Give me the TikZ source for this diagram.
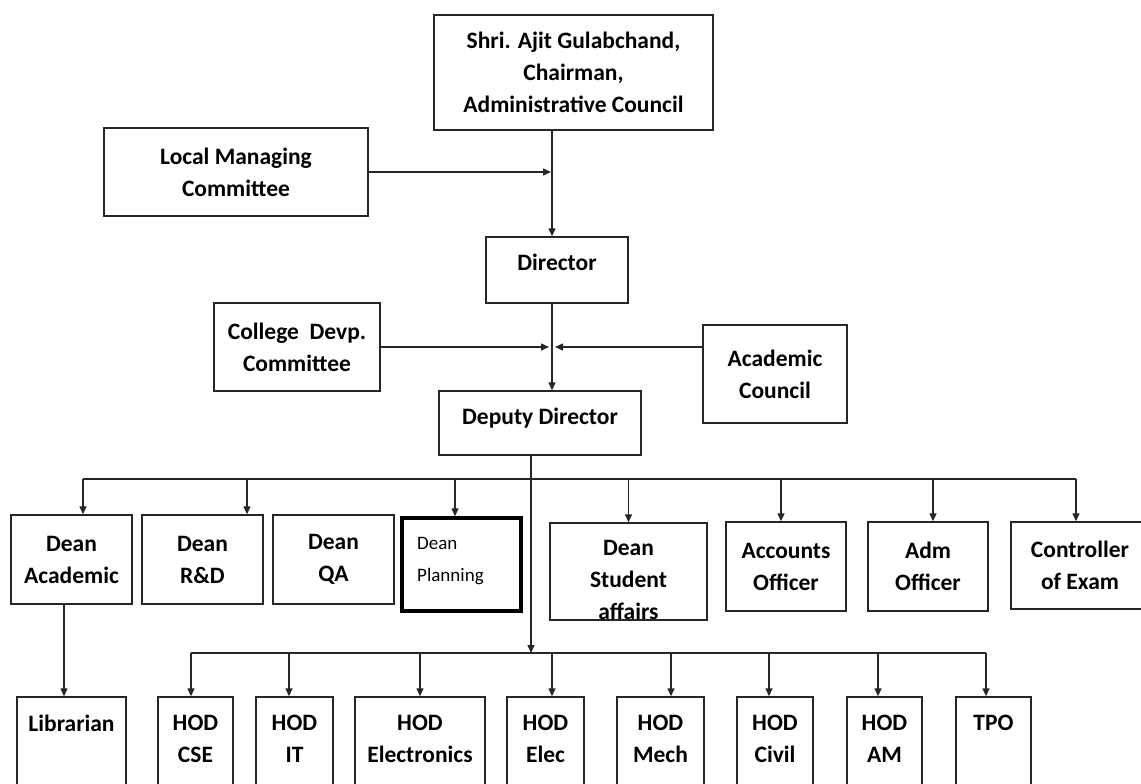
\documentclass[tikz,border=0pt]{standalone}
\usepackage{fontspec}
\setmainfont{Carlito}
\usetikzlibrary{arrows.meta}
\begin{document}
\begin{tikzpicture}[x=1pt, y=-1pt,
    box/.style={draw=black!85, line width=1.4pt, inner sep=0pt, align=center,
      font=\bfseries\fontsize{23.5}{32}\selectfont},
    lbl/.style={inner sep=0pt, align=center, font=\bfseries\fontsize{23.5}{32}\selectfont},
    line/.style={draw=black!85, line width=1.4pt},
    arr/.style={line, -{Triangle[length=8pt, width=7pt]}}]
  \path[use as bounding box, clip] (0,0) rectangle (1141,784);

  \node[box, minimum width=279pt, minimum height=115pt] (chair) at (573.5,72.5) {Shri. Ajit Gulabchand,\\Chairman,\\Administrative Council};
  \node[box, minimum width=264pt, minimum height=88pt] (lmc) at (236,172) {Local Managing\\Committee};
  \node[box, minimum width=142pt, minimum height=66pt, text depth=15pt] (dir) at (557,270) {Director};
  \node[box, minimum width=166pt, minimum height=88pt] (cdc) at (297,347) {College\ \ Devp.\\Committee};
  \node[box, minimum width=144pt, minimum height=98pt] (acad) at (775,374) {Academic\\Council};
  \node[box, minimum width=202pt, minimum height=64pt, text depth=13pt] (dep) at (540,423) {Deputy Director};

  \node[box, minimum width=121pt, minimum height=89pt] (dacad) at (71.5,559.5) {Dean\\Academic};
  \node[box, minimum width=121pt, minimum height=89pt] (drd) at (202.5,559.5) {Dean\\R\&D};
  \node[box, minimum width=121pt, minimum height=89pt] (dqa) at (333.5,559.5) {Dean\\QA};
  \node[box, draw=black, line width=3.5pt, minimum width=119pt, minimum height=93pt] (dplan) at (461.5,564.5) {};
  \node[lbl, anchor=west, align=left, font=\fontsize{19}{32}\selectfont] (dplantxt) at (417,561) {Dean\\Planning};
  \node[box, minimum width=157pt, minimum height=97pt] (dstu) at (628.5,571.5) {};
  \node[lbl] (dstutxt) at (628.5,580) {Dean\\Student\\affairs};
  \node[box, minimum width=120pt, minimum height=89pt] (acc) at (786,566.5) {Accounts\\Officer};
  \node[box, minimum width=120pt, minimum height=89pt] (adm) at (928,566.5) {Adm\\Officer};
  \node[box, minimum width=138pt, minimum height=87pt] (ctrl) at (1080,565.5) {Controller\\of Exam};

  \node[box, minimum width=109pt, minimum height=100pt] (lib) at (71.5,747) {};
  \node[lbl] (libtxt) at (71.5,723) {Librarian};
  \node[box, minimum width=75pt, minimum height=100pt] (cse) at (195.5,747) {};
  \node[lbl] (csetxt) at (195.5,739) {HOD\\CSE};
  \node[box, minimum width=77pt, minimum height=100pt] (it) at (294.5,747) {};
  \node[lbl] (ittxt) at (294.5,739) {HOD\\IT};
  \node[box, minimum width=130pt, minimum height=100pt] (elx) at (420,747) {};
  \node[lbl] (elxtxt) at (420,739) {HOD\\Electronics};
  \node[box, minimum width=77pt, minimum height=100pt] (elec) at (545.5,747) {};
  \node[lbl] (electxt) at (545.5,739) {HOD\\Elec};
  \node[box, minimum width=87pt, minimum height=100pt] (mech) at (660.5,747) {};
  \node[lbl] (mechtxt) at (660.5,739) {HOD\\Mech};
  \node[box, minimum width=76pt, minimum height=100pt] (civil) at (775,747) {};
  \node[lbl] (civiltxt) at (775,739) {HOD\\Civil};
  \node[box, minimum width=75pt, minimum height=100pt] (am) at (884.5,747) {};
  \node[lbl] (amtxt) at (884.5,739) {HOD\\AM};
  \node[box, minimum width=75pt, minimum height=100pt] (tpo) at (993.5,747) {};
  \node[lbl] (tpotxt) at (993.5,723) {TPO};

  \coordinate (j1) at (552,172);
  \coordinate (j2) at (552,347);
  \coordinate (j3) at (531,479);
  \coordinate (j4) at (531,653);

  \draw[arr] (chair.south -| j1) -- (dir.north -| j1);
  \draw[arr, shorten >=1pt] (lmc) -- (j1);
  \draw[arr] (dir.south -| j2) -- (dep.north -| j2);
  \draw[arr, shorten >=3pt] (cdc) -- (j2);
  \draw[arr, shorten >=3pt] (acad.west |- j2) -- (j2);

  \draw[arr] (dep.south -| j4) -- (j4);
  \draw[line] ([xshift=11.5pt]dacad.north |- j3) -- ([xshift=-4pt]ctrl.north |- j3);
  \draw[arr] ([xshift=11.5pt]dacad.north |- j3) -- ([xshift=11.5pt]dacad.north);
  \draw[arr] ([xshift=44.5pt]drd.north |- j3) -- ([xshift=44.5pt]drd.north);
  \draw[arr] ([xshift=-6.5pt]dplan.north |- j3) -- ([xshift=-6.5pt]dplan.north);
  \draw[arr] (dstu.north |- j3) -- (dstu.north);
  \draw[arr] ([xshift=-5pt]acc.north |- j3) -- ([xshift=-5pt]acc.north);
  \draw[arr] ([xshift=5pt]adm.north |- j3) -- ([xshift=5pt]adm.north);
  \draw[arr] ([xshift=-4pt]ctrl.north |- j3) -- ([xshift=-4pt]ctrl.north);

  \draw[arr] ([xshift=-7.5pt]dacad.south) -- ([xshift=-7.5pt]lib.north);
  \draw[line] ([xshift=-4.5pt]cse.north |- j4) -- ([xshift=-7.5pt]tpo.north |- j4);
  \draw[arr] ([xshift=-4.5pt]cse.north |- j4) -- ([xshift=-4.5pt]cse.north);
  \draw[arr] ([xshift=-5.5pt]it.north |- j4) -- ([xshift=-5.5pt]it.north);
  \draw[arr] (elx.north |- j4) -- (elx.north);
  \draw[arr] ([xshift=6.5pt]elec.north |- j4) -- ([xshift=6.5pt]elec.north);
  \draw[arr] ([xshift=10.5pt]mech.north |- j4) -- ([xshift=10.5pt]mech.north);
  \draw[arr] ([xshift=-6pt]civil.north |- j4) -- ([xshift=-6pt]civil.north);
  \draw[arr] ([xshift=-6.5pt]am.north |- j4) -- ([xshift=-6.5pt]am.north);
  \draw[arr] ([xshift=-7.5pt]tpo.north |- j4) -- ([xshift=-7.5pt]tpo.north);
\end{tikzpicture}
\end{document}
